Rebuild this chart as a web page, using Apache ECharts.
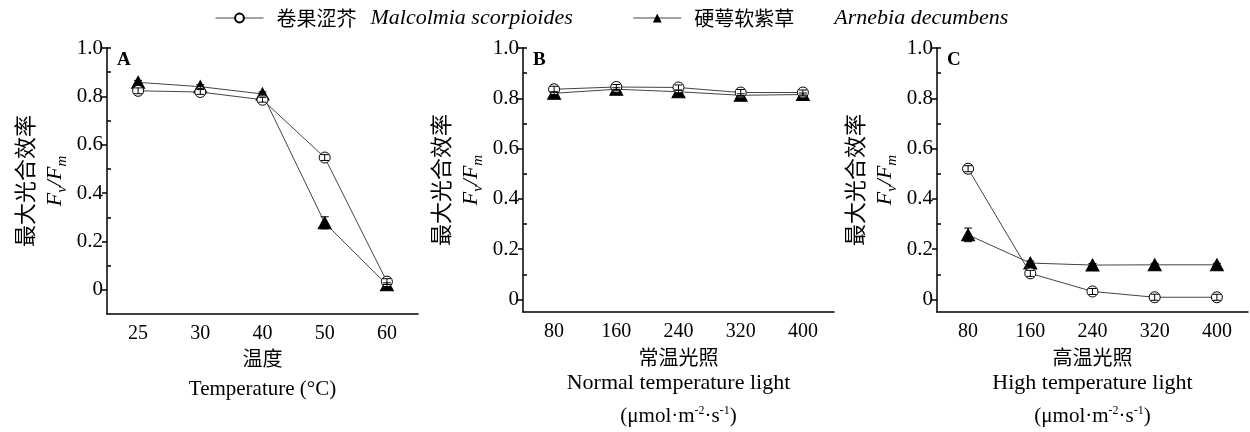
<!DOCTYPE html>
<html>
<head>
<meta charset="utf-8">
<script src="https://cdn.jsdelivr.net/npm/echarts@6/dist/echarts.min.js"></script>
<style>html,body{margin:0;padding:0;background:#fff}#c{width:1250px;height:432px}</style>
</head>
<body>
<div id="c"></div>
<script>
// ---- data ----
const seriesNames = ['卷果涩芥', '硬萼软紫草'];
const latinNames = ['Malcolmia scorpioides', 'Arnebia decumbens'];
const categoriesA = ['25', '30', '40', '50', '60'];
const categoriesB = ['80', '160', '240', '320', '400'];
const categoriesC = ['80', '160', '240', '320', '400'];
const yTickLabels = [0, 0.2, 0.4, 0.6, 0.8, 1.0];
const yMinorTicks = [0.1, 0.3, 0.5, 0.7, 0.9, 1.0];

const malcolmiaA = [0.823, 0.818, 0.786, 0.547, 0.034];
const arnebiaA   = [0.858, 0.840, 0.810, 0.277, 0.021];
const malcolmiaB = [0.836, 0.845, 0.843, 0.823, 0.823];
const arnebiaB   = [0.820, 0.836, 0.826, 0.812, 0.815];
const malcolmiaC = [0.520, 0.104, 0.032, 0.009, 0.009];
const arnebiaC   = [0.257, 0.145, 0.137, 0.138, 0.138];

const errMalcolmiaA = [0.012, 0.010, 0.010, 0.012, 0.012];
const errArnebiaA   = [0.008, 0.008, 0.008, 0.025, 0.008];
const errMalcolmiaB = [0.012, 0.010, 0.010, 0.012, 0.010];
const errArnebiaB   = [0.006, 0.006, 0.006, 0.006, 0.006];
const errMalcolmiaC = [0.012, 0.012, 0.012, 0.012, 0.012];
const errArnebiaC   = [0.027, 0.008, 0.006, 0.006, 0.006];

const panelLetters = ['A', 'B', 'C'];

// ---- options ----
const SERIF = '"Liberation Serif", "Times New Roman", serif';
const CJK = '"Noto Sans CJK SC", sans-serif';

const panels = [
  {cats: categoriesA, mal: malcolmiaA, arn: arnebiaA, eM: errMalcolmiaA, eA: errArnebiaA, ymin: -0.1,
   xname: '{cn|温度}\n{en|Temperature (°C)}'},
  {cats: categoriesB, mal: malcolmiaB, arn: arnebiaB, eM: errMalcolmiaB, eA: errArnebiaB, ymin: -0.05,
   xname: '{cn2|常温光照}\n{en2|Normal temperature light}\n{u|(μmol·m}{sup|-2}{u|·s}{sup|-1}{u|)}'},
  {cats: categoriesC, mal: malcolmiaC, arn: arnebiaC, eM: errMalcolmiaC, eA: errArnebiaC, ymin: -0.05,
   xname: '{cn2|高温光照}\n{en2|High temperature light}\n{u|(μmol·m}{sup|-2}{u|·s}{sup|-1}{u|)}'}
];
const gridLefts = [107, 523, 937];

const xNameRich = {
  cn: {fontFamily: CJK, fontSize: 20, lineHeight: 30, color: '#000'},
  en: {fontFamily: SERIF, fontSize: 21, lineHeight: 32, color: '#000'},
  cn2: {fontFamily: CJK, fontSize: 20, lineHeight: 25, color: '#000'},
  en2: {fontFamily: SERIF, fontSize: 22, lineHeight: 27, color: '#000'},
  u: {fontFamily: SERIF, fontSize: 21, lineHeight: 40, color: '#000'},
  sup: {fontFamily: SERIF, fontSize: 12, lineHeight: 40, verticalAlign: 'top', padding: [8, 0, 0, 0], color: '#000'}
};
const yNameRich = {
  cn: {fontFamily: CJK, fontSize: 22, lineHeight: 30, color: '#000'},
  it: {fontFamily: SERIF, fontStyle: 'italic', fontSize: 22, lineHeight: 30, color: '#000'},
  sub: {fontFamily: SERIF, fontStyle: 'italic', fontSize: 15, lineHeight: 16, verticalAlign: 'bottom', color: '#000'}
};

const grid = [], xAxis = [], yAxis = [], series = [], graphic = [];

function errRender(params, api) {
  const x = api.value(0), y = api.value(1), e = api.value(2);
  const hi = api.coord([x, y + e]);
  const lo = api.coord([x, y - e]);
  const hw = 4;
  const st = {stroke: '#000', lineWidth: 1};
  return {
    type: 'group',
    children: [
      {type: 'line', shape: {x1: hi[0], y1: hi[1], x2: lo[0], y2: lo[1]}, style: st},
      {type: 'line', shape: {x1: hi[0] - hw, y1: hi[1], x2: hi[0] + hw, y2: hi[1]}, style: st},
      {type: 'line', shape: {x1: lo[0] - hw, y1: lo[1], x2: lo[0] + hw, y2: lo[1]}, style: st}
    ]
  };
}

panels.forEach((p, i) => {
  grid.push({left: gridLefts[i], top: 48, width: 311, height: 266});
  xAxis.push({
    type: 'category', gridIndex: i, data: p.cats, position: 'bottom', boundaryGap: true,
    axisLine: {onZero: false, lineStyle: {color: '#000', width: 1.5}},
    axisTick: {inside: true, alignWithLabel: true, length: 6, lineStyle: {color: '#000', width: 1.5}},
    axisLabel: {color: '#000', fontFamily: SERIF, fontSize: 20, margin: 10},
    name: p.xname, nameLocation: 'middle', nameGap: 29,
    nameTextStyle: {rich: xNameRich}
  });
  xAxis.push({
    type: 'category', gridIndex: i, data: p.cats, position: 'bottom', boundaryGap: true,
    axisLine: {show: false, onZero: false},
    axisTick: {inside: true, alignWithLabel: false, length: 3, lineStyle: {color: '#000', width: 1.5}},
    axisLabel: {show: false}
  });
  yAxis.push({
    type: 'value', gridIndex: i, min: p.ymin, max: 1.0, position: 'left',
    splitLine: {show: false},
    axisLine: {show: true, onZero: false, lineStyle: {color: '#000', width: 1.5}},
    axisTick: {show: true, inside: false, length: 5, customValues: yTickLabels, lineStyle: {color: '#000', width: 1.5}},
    axisLabel: {color: '#000', fontFamily: SERIF, fontSize: 21, margin: 4, customValues: yTickLabels,
      formatter: v => (Math.abs(v) < 1e-9 ? '0' : v.toFixed(1))},
    name: '{cn|最大光合效率}\n{it|F}{sub|v}{it|/F}{sub|m}',
    nameLocation: 'middle', nameRotate: 90, nameGap: 37,
    nameTextStyle: {rich: yNameRich}
  });
  yAxis.push({
    type: 'value', gridIndex: i, min: p.ymin, max: 1.0, position: 'left',
    splitLine: {show: false},
    axisLine: {show: false, onZero: false},
    axisTick: {show: true, inside: true, length: 4, customValues: yMinorTicks, lineStyle: {color: '#000', width: 1.5}},
    axisLabel: {show: false}
  });
  const xi = i * 2, yi = i * 2;
  series.push({
    name: seriesNames[1], type: 'line', xAxisIndex: xi, yAxisIndex: yi, data: p.arn,
    symbol: 'triangle', symbolSize: [13, 12], z: 2,
    itemStyle: {color: '#000', borderColor: '#000'},
    lineStyle: {color: '#444', width: 1}
  });
  series.push({
    name: seriesNames[0], type: 'line', xAxisIndex: xi, yAxisIndex: yi, data: p.mal,
    symbol: 'circle', symbolSize: 11, z: 3,
    itemStyle: {color: '#fff', borderColor: '#000', borderWidth: 1},
    lineStyle: {color: '#444', width: 1}
  });
  series.push({
    name: 'errA' + i, type: 'custom', xAxisIndex: xi, yAxisIndex: yi, z: 4,
    renderItem: errRender, data: p.arn.map((v, k) => [k, v, p.eA[k]])
  });
  series.push({
    name: 'errM' + i, type: 'custom', xAxisIndex: xi, yAxisIndex: yi, z: 4,
    renderItem: errRender, data: p.mal.map((v, k) => [k, v, p.eM[k]])
  });
  graphic.push({
    type: 'text', left: gridLefts[i] + 10, top: 51,
    style: {text: panelLetters[i], font: 'bold 19px ' + SERIF, fill: '#000'}
  });
});

const option = {
  animation: false,
  backgroundColor: '#fff',
  legend: {
    data: seriesNames, left: 210, top: 2, itemWidth: 48, itemHeight: 11, itemGap: 60,
    selectedMode: false,
    lineStyle: {width: 1, color: '#444'},
    formatter: name => {
      const k = seriesNames.indexOf(name);
      return '{cn|' + name + '}{' + (k === 0 ? 'la' : 'lb') + '|' + latinNames[k] + '}';
    },
    textStyle: {
      rich: {
        cn: {fontFamily: CJK, fontSize: 20, color: '#000', padding: [0, 0, 0, 8]},
        la: {fontFamily: SERIF, fontStyle: 'italic', fontSize: 22, color: '#000', padding: [0, 0, 0, 14]},
        lb: {fontFamily: SERIF, fontStyle: 'italic', fontSize: 22, color: '#000', padding: [0, 0, 0, 40]}
      }
    }
  },
  grid, xAxis, yAxis, series, graphic
};

const chart = echarts.init(document.getElementById('c'), null, {renderer: 'canvas'});
chart.setOption(option);
</script>
</body>
</html>
